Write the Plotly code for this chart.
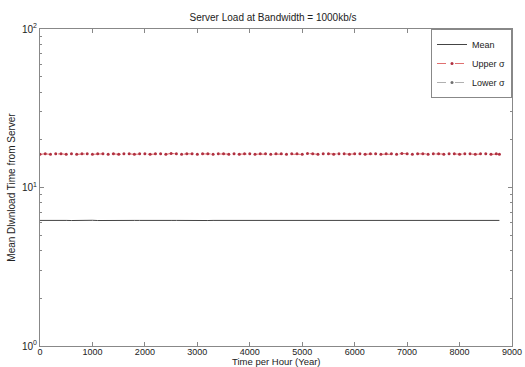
import plotly.graph_objects as go

hours = [0, 100, 200, 300, 400, 500, 600, 700, 800, 900,
         1000, 1100, 1200, 1300, 1400, 1500, 1600, 1700, 1800, 1900,
         2000, 2100, 2200, 2300, 2400, 2500, 2600, 2700, 2800, 2900,
         3000, 3100, 3200, 3300, 3400, 3500, 3600, 3700, 3800, 3900,
         4000, 4100, 4200, 4300, 4400, 4500, 4600, 4700, 4800, 4900,
         5000, 5100, 5200, 5300, 5400, 5500, 5600, 5700, 5800, 5900,
         6000, 6100, 6200, 6300, 6400, 6500, 6600, 6700, 6800, 6900,
         7000, 7100, 7200, 7300, 7400, 7500, 7600, 7700, 7800, 7900,
         8000, 8100, 8200, 8300, 8400, 8500, 8600, 8700, 8760]

mean_vals = [6.20, 6.21, 6.19, 6.20, 6.22, 6.20, 6.19, 6.21, 6.20, 6.20,
             6.21, 6.19, 6.20, 6.20, 6.22, 6.20, 6.19, 6.21, 6.20, 6.20,
             6.21, 6.20, 6.19, 6.20, 6.21, 6.20, 6.20, 6.19, 6.21, 6.20,
             6.20, 6.21, 6.19, 6.20, 6.20, 6.21, 6.20, 6.19, 6.20, 6.21,
             6.20, 6.20, 6.19, 6.21, 6.20, 6.20, 6.21, 6.19, 6.20, 6.20,
             6.21, 6.20, 6.19, 6.20, 6.21, 6.20, 6.20, 6.19, 6.21, 6.20,
             6.20, 6.21, 6.19, 6.20, 6.20, 6.21, 6.20, 6.19, 6.20, 6.21,
             6.20, 6.20, 6.19, 6.21, 6.20, 6.20, 6.21, 6.19, 6.20, 6.20,
             6.21, 6.20, 6.19, 6.20, 6.21, 6.20, 6.20, 6.19, 6.20]

upper_vals = [16.2, 16.3, 16.2, 16.3, 16.3, 16.2, 16.3, 16.2, 16.3, 16.3,
              16.2, 16.3, 16.3, 16.2, 16.3, 16.2, 16.3, 16.3, 16.2, 16.3,
              16.3, 16.2, 16.3, 16.3, 16.2, 16.4, 16.3, 16.2, 16.3, 16.3,
              16.2, 16.3, 16.3, 16.2, 16.3, 16.3, 16.2, 16.3, 16.2, 16.3,
              16.3, 16.2, 16.3, 16.3, 16.2, 16.3, 16.3, 16.2, 16.3, 16.3,
              16.2, 16.4, 16.3, 16.2, 16.3, 16.3, 16.2, 16.3, 16.3, 16.2,
              16.3, 16.3, 16.2, 16.3, 16.3, 16.2, 16.3, 16.3, 16.2, 16.4,
              16.3, 16.2, 16.3, 16.3, 16.2, 16.3, 16.3, 16.2, 16.3, 16.3,
              16.2, 16.3, 16.3, 16.2, 16.3, 16.3, 16.2, 16.3, 16.2]

lower_vals = [-3.9, -3.9, -3.8, -3.9, -3.9, -3.9, -3.9, -3.8, -3.9, -3.9,
              -3.9, -3.9, -3.8, -3.9, -3.9, -3.9, -3.9, -3.8, -3.9, -3.9,
              -3.9, -3.9, -3.8, -3.9, -3.9, -4.0, -3.9, -3.8, -3.9, -3.9,
              -3.9, -3.9, -3.8, -3.9, -3.9, -3.9, -3.9, -3.8, -3.9, -3.9,
              -3.9, -3.9, -3.8, -3.9, -3.9, -3.9, -3.9, -3.8, -3.9, -3.9,
              -3.9, -4.0, -3.8, -3.9, -3.9, -3.9, -3.9, -3.8, -3.9, -3.9,
              -3.9, -3.9, -3.8, -3.9, -3.9, -3.9, -3.9, -3.8, -3.9, -4.0,
              -3.9, -3.9, -3.8, -3.9, -3.9, -3.9, -3.9, -3.8, -3.9, -3.9,
              -3.9, -3.9, -3.8, -3.9, -3.9, -3.9, -3.9, -3.8, -3.9]

title_text = "Server Load at Bandwidth = 1000kb/s"
x_title = "Time per Hour (Year)"
y_title = "Mean Dlwnload Time from Server"
x_ticks = [0, 1000, 2000, 3000, 4000, 5000, 6000, 7000, 8000, 9000]
y_ticks = [1, 10, 100]
y_tick_text = ["10<sup>0</sup>", "10<sup>1</sup>", "10<sup>2</sup>"]

font = "Liberation Sans, Arial, sans-serif"
txt = "#222222"

fig = go.Figure()
fig.add_trace(go.Scatter(x=hours, y=mean_vals, mode="lines", name="Mean",
                         line=dict(color="#444444", width=1)))
fig.add_trace(go.Scatter(x=hours, y=upper_vals, mode="lines+markers", name="Upper σ",
                         line=dict(color="#e07070", width=1, dash="dash"),
                         marker=dict(color="#b03040", size=3, symbol="circle")))
fig.add_trace(go.Scatter(x=hours, y=lower_vals, mode="lines+markers", name="Lower σ",
                         line=dict(color="#b0b0b0", width=1, dash="dash"),
                         marker=dict(color="#707070", size=3, symbol="circle")))

axis_common = dict(showline=True, linecolor="#888888", linewidth=1, mirror="ticks",
                   ticks="inside", tickcolor="#888888", ticklen=4, showgrid=False,
                   zeroline=False, automargin=False)

fig.update_xaxes(range=[0, 9000], tickvals=x_ticks, ticklabelstandoff=-3,
                 tickfont=dict(size=9, color=txt, family=font), **axis_common)
fig.update_yaxes(type="log", range=[0, 2], tickvals=y_ticks, ticktext=y_tick_text,
                 tickfont=dict(size=10, color=txt, family=font),
                 minor=dict(ticks="inside", ticklen=2, tickcolor="#888888", dtick="D1"),
                 title=dict(text=y_title, standoff=4, font=dict(size=10, family=font, color=txt)),
                 **axis_common)

# x-axis title placed as annotation just below the tick labels
fig.add_annotation(text=x_title, xref="paper", yref="paper", x=0.5, y=-0.049,
                   xanchor="center", yanchor="middle", showarrow=False,
                   font=dict(size=9.5, family=font, color=txt))

fig.update_layout(
    width=525, height=367,
    margin=dict(l=40, r=13, t=29, b=21, autoexpand=False),
    paper_bgcolor="white", plot_bgcolor="white",
    title=dict(text=title_text, x=0.52, xanchor="center", y=0.963, yanchor="top",
               font=dict(size=10, family=font, color=txt)),
    legend=dict(x=1, y=1, xanchor="right", yanchor="top",
                bgcolor="white", bordercolor="#888888", borderwidth=1,
                font=dict(size=9, family=font, color=txt),
                itemwidth=30, tracegroupgap=0),
    showlegend=True,
)

fig.write_html("out.html", config={"displayModeBar": False},
               post_script="document.body.style.margin='0';document.body.style.padding='0';")
